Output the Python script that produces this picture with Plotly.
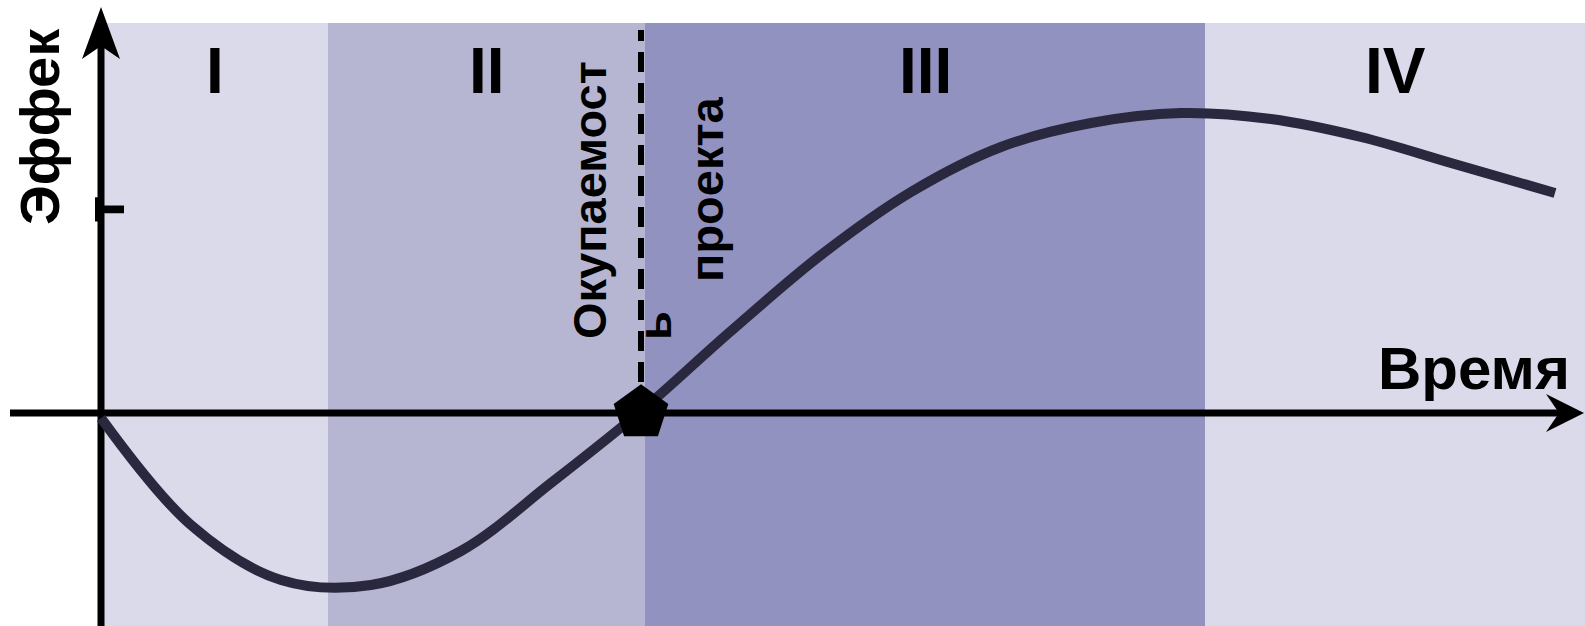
import plotly.graph_objects as go

# ---- data ----
time = [0.0, 0.9, 1.8, 2.7, 3.6, 4.5, 5.4, 6.3, 7.2, 8.1, 9.0, 9.9, 10.8, 11.7, 12.6, 13.5, 14.54]
effect = [-0.05, -1.12, -1.67, -1.72, -1.38, -0.70, 0.02, 0.82, 1.58, 2.21, 2.66, 2.90, 3.00, 2.94, 2.76, 2.50, 2.20]
phase_labels = ["I", "II", "III", "IV"]
phase_bounds = [0.0, 2.27, 5.44, 11.04, 14.84]
phase_colors = ["#dadaea", "#b6b6d3", "#9192bf", "#dadaea"]
payback_t = 5.4
payback_effect = 0.0

X_RANGE = [-1.01, 14.84]
Y_RANGE = [-2.13, 4.13]
BAND_TOP = 3.90
FONT = "Liberation Sans, Arial, sans-serif"

fig = go.Figure()

shapes = []
for i, c in enumerate(phase_colors):
    shapes.append(dict(type="rect", xref="x", yref="y", x0=phase_bounds[i], x1=phase_bounds[i + 1],
                       y0=Y_RANGE[0], y1=BAND_TOP, fillcolor=c, line=dict(width=0), layer="below"))
# dashed payback line
shapes.append(dict(type="line", xref="x", yref="y", x0=payback_t, x1=payback_t, y0=0, y1=3.83,
                   line=dict(color="black", width=6, dash="20px,11px"), layer="below"))
# axes lines
shapes.append(dict(type="line", xref="x", yref="y", x0=-0.91, x1=14.6, y0=0, y1=0,
                   line=dict(color="black", width=7), layer="below"))
shapes.append(dict(type="line", xref="x", yref="y", x0=0, x1=0, y0=Y_RANGE[0], y1=3.7,
                   line=dict(color="black", width=7), layer="below"))
# arrowheads
shapes.append(dict(type="path", xref="x", yref="y",
                   path="M 0,4.06 L 0.19,3.54 L 0,3.67 L -0.19,3.54 Z",
                   fillcolor="black", line=dict(width=0), layer="below"))
shapes.append(dict(type="path", xref="x", yref="y",
                   path="M 14.83,0 L 14.45,0.19 L 14.58,0 L 14.45,-0.19 Z",
                   fillcolor="black", line=dict(width=0), layer="below"))

fig.add_trace(go.Scatter(x=time, y=effect, mode="lines",
                         line=dict(color="#29283f", width=10, shape="spline", smoothing=1.0),
                         hoverinfo="skip", showlegend=False))
fig.add_trace(go.Scatter(x=[payback_t], y=[payback_effect], mode="markers",
                         marker=dict(symbol="pentagon", size=55, color="black",
                                     line=dict(color="black", width=2)),
                         hoverinfo="skip", showlegend=False))

annotations = []
for i, lab in enumerate(phase_labels):
    annotations.append(dict(x=(phase_bounds[i] + phase_bounds[i + 1]) / 2, y=3.42, text=lab,
                            showarrow=False, xanchor="center", yanchor="middle",
                            font=dict(family=FONT, size=64, color="black", weight="bold")))

annotations += [
    dict(x=-0.62, y=2.86, text="Эффек", textangle=-90, showarrow=False, xanchor="center", yanchor="middle",
         font=dict(family=FONT, size=56, color="black", weight="bold")),
    dict(x=0.03, y=2.03, text="т", textangle=-90, showarrow=False, xanchor="center", yanchor="middle",
         font=dict(family=FONT, size=56, color="black", weight="bold")),
    dict(x=13.73, y=0.45, text="Время", showarrow=False, xanchor="center", yanchor="middle",
         font=dict(family=FONT, size=60, color="black", weight="bold")),
    dict(x=4.88, y=2.13, text="Окупаемост", textangle=-90, showarrow=False, xanchor="center", yanchor="middle",
         font=dict(family=FONT, size=47, color="black", weight="bold")),
    dict(x=5.53, y=0.87, text="ь", textangle=-90, showarrow=False, xanchor="center", yanchor="middle",
         font=dict(family=FONT, size=47, color="black", weight="bold")),
    dict(x=6.05, y=2.23, text="проекта", textangle=-90, showarrow=False, xanchor="center", yanchor="middle",
         font=dict(family=FONT, size=47, color="black", weight="bold")),
]

fig.update_layout(
    width=1585, height=626,
    margin=dict(l=0, r=0, t=0, b=0),
    paper_bgcolor="white", plot_bgcolor="white",
    shapes=shapes, annotations=annotations,
    xaxis=dict(range=X_RANGE, visible=False, fixedrange=True),
    yaxis=dict(range=Y_RANGE, visible=False, fixedrange=True),
    showlegend=False,
)

fig.write_html("out.html", config={"displayModeBar": False},
               post_script="document.body.style.margin='0px';document.body.style.overflow='hidden';")
